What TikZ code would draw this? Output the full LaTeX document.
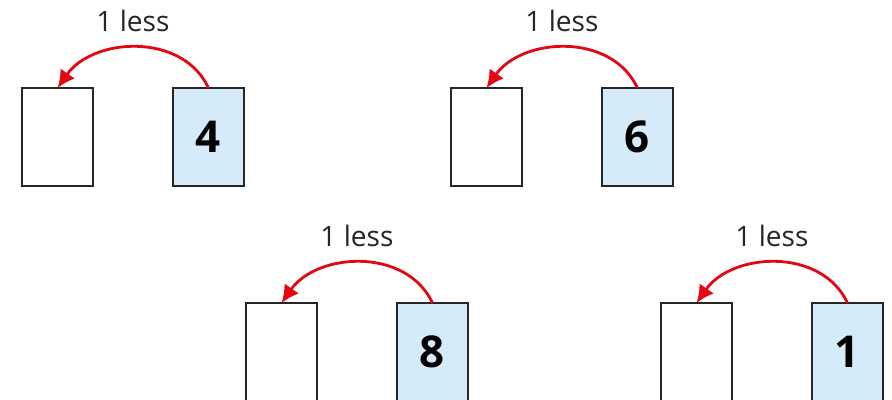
\documentclass[tikz,border=0pt]{standalone}
\usepackage{fontspec}
\setmainfont{Open Sans}
\usepackage{xcolor}
\usetikzlibrary{arrows.meta, positioning}

\definecolor{lessred}{HTML}{E30613}
\definecolor{cardblue}{HTML}{D6EBFA}

\tikzset{
  card/.style={draw=black!85, line width=1.3pt, minimum width=1.42cm,
    minimum height=1.96cm, inner sep=0pt, outer sep=0pt},
  fullcard/.style={card, fill=cardblue, font=\fontsize{25}{25}\selectfont\bfseries},
  lessarrow/.style={draw=lessred, line width=1.6pt,
    -{Latex[length=10pt, width=10pt]}},
  lesslabel/.style={font=\fontsize{16}{16}\selectfont, text=black!85}
}

\begin{document}
\begin{tikzpicture}[x=0.02cm, y=-0.02cm]

    % =================================================================
    % 1. KHUNG HÌNH
    % =================================================================
    \clip (0,0) rectangle (892,399);
    \fill[white] (0,0) rectangle (892,399);

    % =================================================================
    % 2. CÁC NHÓM THẺ: góc trái / đỉnh / số / tên
    % =================================================================
    \foreach \gx/\gy/\num/\name in {22/88/4/a, 451/88/6/b, 246/303/8/c, 661/303/1/d}{
        % Thẻ trống bên trái
        \node[card] (empty\name) at (\gx+35.5, \gy+49) {};
        % Thẻ có số bên phải
        \node[fullcard] (full\name) at (\gx+186.5, \gy+49) {\num};
        % Mũi tên cong "1 less"
        \draw[lessarrow] (full\name.north) to[out=115, in=55, looseness=1.05]
            (empty\name.north);
        % Nhãn
        \node[lesslabel] (label\name) at (\gx+111, \gy-67) {1 less};
    }

\end{tikzpicture}
\end{document}
